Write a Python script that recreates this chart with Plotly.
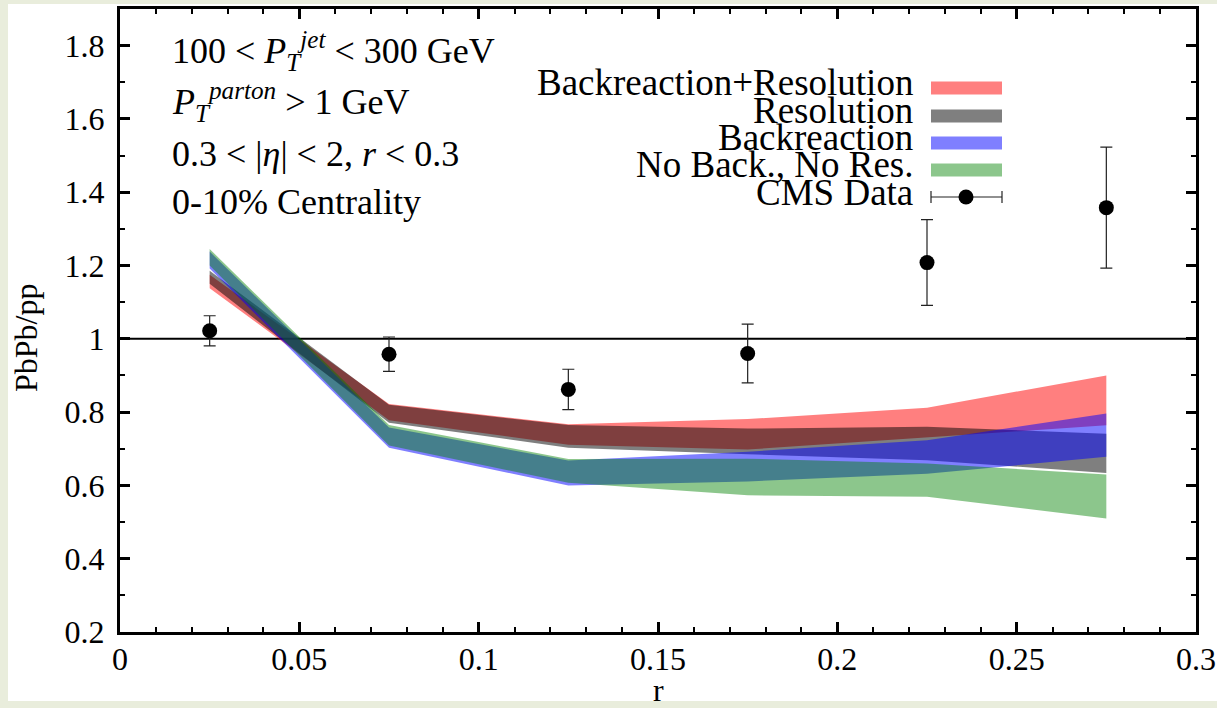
import plotly.graph_objects as go

# ---------------- data ----------------
r_points = [0.025, 0.075, 0.125, 0.175, 0.225, 0.275]
cms_ratio = [1.022, 0.958, 0.862, 0.960, 1.208, 1.358]
cms_err = [0.041, 0.047, 0.055, 0.080, 0.117, 0.165]

br_res_low = [1.138, 0.778, 0.711, 0.698, 0.732, 0.764]
br_res_high = [1.175, 0.822, 0.767, 0.781, 0.812, 0.900]
res_low = [1.150, 0.771, 0.703, 0.685, 0.669, 0.634]
res_high = [1.186, 0.820, 0.765, 0.755, 0.760, 0.741]
br_low = [1.192, 0.703, 0.600, 0.611, 0.632, 0.678]
br_high = [1.238, 0.758, 0.668, 0.692, 0.723, 0.796]
nobr_low = [1.200, 0.709, 0.607, 0.573, 0.569, 0.510]
nobr_high = [1.245, 0.765, 0.672, 0.673, 0.660, 0.630]

band_names = ["Backreaction+Resolution", "Resolution", "Backreaction", "No Back., No Res."]
band_low = [br_res_low, res_low, br_low, nobr_low]
band_high = [br_res_high, res_high, br_high, nobr_high]
band_colors = ["rgba(255,0,0,0.5)", "rgba(0,0,0,0.5)", "rgba(0,0,255,0.5)", "rgba(0,128,0,0.45)"]

x_ticks = [0, 0.05, 0.1, 0.15, 0.2, 0.25, 0.3]
y_ticks = [0.2, 0.4, 0.6, 0.8, 1.0, 1.2, 1.4, 1.6, 1.8]

# ---------------- geometry helpers ----------------
W, H = 1217, 708
ML, MR, MT, MB = 120, 21, 9, 76
PW, PH = W - ML - MR, H - MT - MB


def px(x):
    return (x - ML) / PW


def py(y):
    return (H - MB - y) / PH


FONT = "Liberation Serif"

fig = go.Figure()

# reference line at 1
fig.add_trace(go.Scatter(x=[0, 0.3], y=[1, 1], mode="lines",
                         line=dict(color="black", width=2), showlegend=False, hoverinfo="skip"))

for name, lo, hi, col in zip(band_names, band_low, band_high, band_colors):
    fig.add_trace(go.Scatter(
        x=r_points + r_points[::-1], y=hi + lo[::-1], fill="toself", fillcolor=col,
        mode="lines", line=dict(width=0, color=col), name=name, showlegend=False,
        hoverinfo="skip"))

fig.add_trace(go.Scatter(
    x=r_points, y=cms_ratio, mode="markers", name="CMS Data",
    marker=dict(color="black", size=15),
    error_y=dict(type="data", array=cms_err, color="#222222", thickness=1.2, width=6),
    showlegend=False))

shapes = []
annotations = []

# slide background decoration
shapes.append(dict(type="rect", xref="paper", yref="paper", x0=px(8), x1=px(1240),
                   y0=py(701), y1=py(4), fillcolor="white", line=dict(width=0), layer="below"))

# info text
info = [
    ("100 &lt; <i>P</i><sub><i>T</i></sub><sup><i>jet</i></sup> &lt; 300 GeV", 51),
    ("<i>P</i><sub><i>T</i></sub><sup><i>parton</i></sup> &gt; 1 GeV", 102),
    ("0.3 &lt; |<i>η</i>| &lt; 2, <i>r</i> &lt; 0.3", 154),
    ("0-10% Centrality", 202),
]
for txt, yy in info:
    annotations.append(dict(text=txt, xref="paper", yref="paper", x=px(170), y=py(yy),
                            xanchor="left", yanchor="middle", showarrow=False,
                            font=dict(family=FONT, size=36, color="black")))

# custom legend (text on the left, key on the right)
leg_rows = [82, 110, 137, 164, 192]
leg_keys = [88, 116, 143, 170, 197]
leg_names = band_names + ["CMS Data"]
for i, name in enumerate(leg_names):
    annotations.append(dict(text=name, xref="paper", yref="paper", x=px(915), y=py(leg_rows[i]),
                            xanchor="right", yanchor="middle", showarrow=False,
                            font=dict(family=FONT, size=37, color="black")))
for i, col in enumerate(band_colors):
    shapes.append(dict(type="rect", xref="paper", yref="paper", x0=px(931), x1=px(1002),
                       y0=py(leg_keys[i] + 6.5), y1=py(leg_keys[i] - 6.5), fillcolor=col,
                       line=dict(width=0)))
yk = leg_keys[4]
shapes.append(dict(type="line", xref="paper", yref="paper", x0=px(931), x1=px(1002),
                   y0=py(yk), y1=py(yk), line=dict(color="#222222", width=1.2)))
for xe in (931, 1002):
    shapes.append(dict(type="line", xref="paper", yref="paper", x0=px(xe), x1=px(xe),
                       y0=py(yk - 6), y1=py(yk + 6), line=dict(color="#222222", width=1.2)))
shapes.append(dict(type="circle", xref="paper", yref="paper", x0=px(966 - 7.5), x1=px(966 + 7.5),
                   y0=py(yk + 7.5), y1=py(yk - 7.5), fillcolor="black", line=dict(width=0)))

# axis titles (placed like the original)
annotations.append(dict(text="PbPb/pp", xref="paper", yref="paper", x=px(26), y=py(338),
                        xanchor="center", yanchor="middle", textangle=-90, showarrow=False,
                        font=dict(family=FONT, size=32, color="black")))
annotations.append(dict(text="r", xref="paper", yref="paper", x=px(658), y=py(690),
                        xanchor="center", yanchor="middle", showarrow=False,
                        font=dict(family=FONT, size=32, color="black")))

axis_common = dict(showline=True, linecolor="black", linewidth=3, mirror="allticks",
                   ticks="inside", ticklen=10, tickwidth=2.5, tickcolor="black",
                   showgrid=False, zeroline=False, automargin=False,
                   tickfont=dict(family=FONT, size=32, color="black"))

fig.update_layout(
    width=W, height=H,
    margin=dict(l=ML, r=MR, t=MT, b=MB, autoexpand=False),
    paper_bgcolor="#e9eddc", plot_bgcolor="white",
    showlegend=False,
    shapes=shapes, annotations=annotations,
    xaxis=dict(range=[0, 0.3], tickvals=x_ticks,
               ticktext=[("%g" % v) for v in x_ticks],
               minor=dict(dtick=0.01, ticklen=5, tickwidth=2, tickcolor="black", ticks="inside"),
               ticklabelstandoff=-3,
               **axis_common),
    yaxis=dict(range=[0.2, 1.9], tickvals=y_ticks,
               ticktext=[("%g" % v) for v in y_ticks],
               minor=dict(dtick=0.1, ticklen=5, tickwidth=2, tickcolor="black", ticks="inside"),
               ticklabelstandoff=6,
               **axis_common),
)

fig.write_html("out.html")
